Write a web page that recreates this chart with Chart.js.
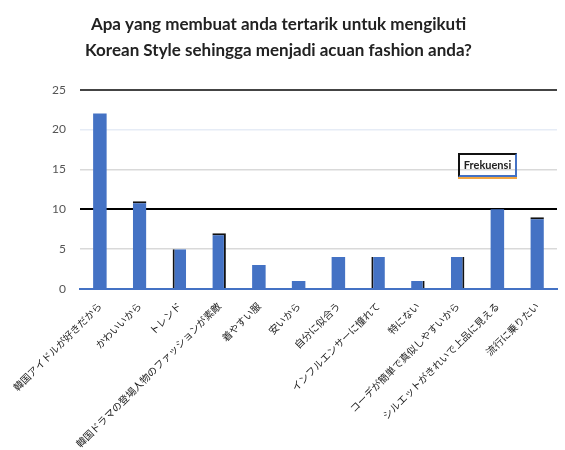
<!DOCTYPE html>
<html>
<head>
<meta charset="utf-8">
<script src="https://cdn.jsdelivr.net/npm/chart.js@4.4.0/dist/chart.umd.min.js"></script>
<style>
    body { margin: 0; background: #fff; }
    #wrap { position: relative; width: 565px; height: 450px; }
    #key {
        position: absolute;
        left: 458px;
        top: 153px;
        width: 55px;
        height: 20px;
        border-top: 2px solid #111;
        border-left: 2px solid #111;
        border-right: 2px solid #4472c4;
        border-bottom: 2px solid #4472c4;
        box-shadow: 0 2px 0 #f2a641;
        font: bold 11px Lato, sans-serif;
        color: #222;
        line-height: 20px;
        text-align: center;
    }
</style>
</head>
<body>
<div id="wrap">
    <canvas id="chart" width="565" height="450"></canvas>
    <div id="key">Frekuensi</div>
</div>
<script>
const titleLines = [
    "Apa yang membuat anda tertarik untuk mengikuti",
    "Korean Style sehingga menjadi acuan fashion anda?"
];

const categories = [
    "韓国アイドルが好きだから",
    "かわいいから",
    "トレンド",
    "韓国ドラマの登場人物のファッションが素敵",
    "着やすい服",
    "安いから",
    "自分に似合う",
    "インフルエンサーに憧れて",
    "特にない",
    "コーデが簡単で真似しやすいから",
    "シルエットがきれいで上品に見える",
    "流行に乗りたい"
];

const counts = [22, 11, 5, 7, 3, 1, 4, 4, 1, 4, 10, 9];

const seriesName = "Frekuensi";
const yMax = 25;
const yStep = 5;

// gridline look per tick value
const gridColor = { 0: "#4472c4", 5: "#d9d9d9", 10: "#000", 15: "#d9d9d9", 20: "#e6ecf6", 25: "#444" };
const gridWidth = { 0: 2, 5: 1.5, 10: 2, 15: 1.5, 20: 1.5, 25: 2 };

// the odd dark edges on some bars
const edges = [
    {}, { top: 2 }, { left: 2 }, { top: 2, right: 2 }, {}, {},
    {}, { left: 2 }, { right: 2 }, { right: 2 }, {}, { top: 2 }
];

new Chart(document.getElementById("chart"), {
    type: "bar",
    data: {
        labels: categories,
        datasets: [{
            label: seriesName,
            data: counts,
            backgroundColor: "#4472c4",
            borderColor: "#111",
            borderWidth: edges,
            borderSkipped: false,
            barPercentage: 0.68,
            categoryPercentage: 0.5
        }]
    },
    options: {
        responsive: false,
        animation: false,
        layout: { padding: { left: 0, right: 8, top: 0, bottom: 0 } },
        plugins: {
            legend: { display: false },
            tooltip: { enabled: false },
            title: {
                display: true,
                text: titleLines,
                color: "#222",
                font: { family: "Lato", size: 17, weight: "bold", lineHeight: 1.55 },
                padding: { top: 11, bottom: 26 }
            }
        },
        scales: {
            x: {
                grid: { display: false },
                border: { color: "#4472c4", width: 2 },
                ticks: {
                    minRotation: 45,
                    maxRotation: 45,
                    autoSkip: false,
                    color: "#222",
                    font: { family: "Noto Sans CJK JP", size: 10 }
                },
                afterFit: s => { s.height = 161; }
            },
            y: {
                min: 0,
                max: yMax,
                border: { display: false },
                grid: {
                    drawTicks: false,
                    color: c => gridColor[c.tick.value],
                    lineWidth: c => gridWidth[c.tick.value]
                },
                ticks: {
                    stepSize: yStep,
                    padding: 14,
                    color: "#555",
                    font: { family: "Lato", size: 12 }
                },
                afterFit: s => { s.width = 80; }
            }
        }
    }
});
</script>
</body>
</html>
